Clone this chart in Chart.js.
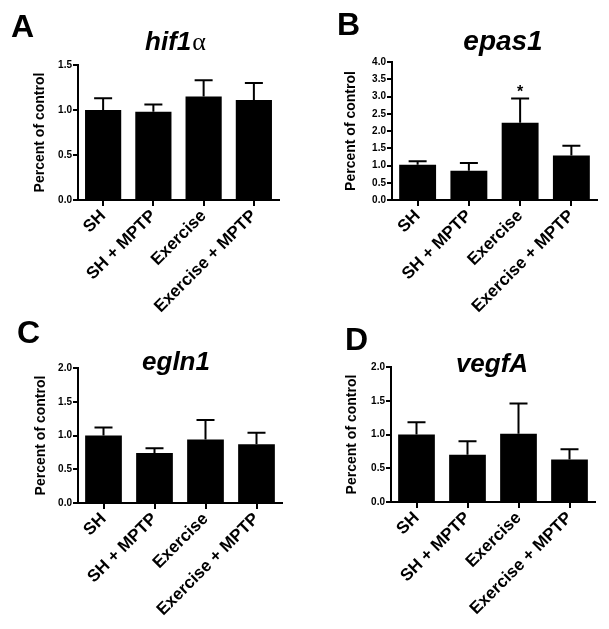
<!DOCTYPE html>
<html>
<head>
<meta charset="utf-8">
<script src="https://cdn.jsdelivr.net/npm/chart.js@4/dist/chart.umd.min.js"></script>
<style>
  body { margin: 0; background: #fff; }
  #wrap { position: relative; width: 609px; height: 629px; overflow: hidden; }
  canvas { position: absolute; }
</style>
</head>
<body>
<div id="wrap">
  <canvas id="panelA" width="305" height="330" style="left:0;top:0"></canvas>
  <canvas id="panelB" width="304" height="330" style="left:305px;top:0"></canvas>
  <canvas id="panelC" width="305" height="314" style="left:0;top:315px"></canvas>
  <canvas id="panelD" width="304" height="314" style="left:305px;top:315px"></canvas>
</div>
<script>
// groups on the x axis
const categories = ['SH', 'SH + MPTP', 'Exercise', 'Exercise + MPTP'];

// mean and SEM (upper error bar only)
const hif1aMean = [1.00, 0.98, 1.15, 1.11];
const hif1aSem  = [0.13, 0.08, 0.18, 0.19];
const epas1Mean = [1.02, 0.85, 2.24, 1.29];
const epas1Sem  = [0.10, 0.22, 0.70, 0.28];
const egln1Mean = [1.00, 0.74, 0.94, 0.87];
const egln1Sem  = [0.12, 0.07, 0.29, 0.17];
const vegfAMean = [1.00, 0.70, 1.01, 0.63];
const vegfASem  = [0.18, 0.20, 0.45, 0.15];

// y axis ranges
const hif1aMax = 1.5;
const epas1Max = 4.0;
const egln1Max = 2.0;
const vegfAMax = 2.0;

// significance marks (index into categories)
const epas1Signif = [2];

const FONT = '"Liberation Sans", Arial, Helvetica, sans-serif';
Chart.defaults.font.family = FONT;
Chart.defaults.color = '#000';

/* draws the upper error bars and the * marks */
const errorBars = {
  id: 'errorBars',
  afterDatasetsDraw(chart, args, opts) {
    const ctx = chart.ctx;
    const meta = chart.getDatasetMeta(0);
    const y = chart.scales.y;
    const mean = chart.data.datasets[0].data;
    ctx.save();
    ctx.strokeStyle = '#000';
    ctx.lineWidth = 2;
    meta.data.forEach((bar, i) => {
      const top = y.getPixelForValue(mean[i] + opts.sem[i]);
      ctx.beginPath();
      ctx.moveTo(bar.x, bar.y);
      ctx.lineTo(bar.x, top);
      ctx.moveTo(bar.x - 9, top);
      ctx.lineTo(bar.x + 9, top);
      ctx.stroke();
      if (opts.signif && opts.signif.includes(i)) {
        ctx.fillStyle = '#000';
        ctx.font = 'bold 16px ' + FONT;
        ctx.textAlign = 'center';
        ctx.textBaseline = 'alphabetic';
        ctx.fillText('*', bar.x, top - 2);
      }
    });
    ctx.restore();
  }
};

/* panel letter and gene name */
const panelTitle = {
  id: 'panelTitle',
  afterDraw(chart, args, o) {
    const ctx = chart.ctx;
    ctx.save();
    ctx.fillStyle = '#000';
    ctx.textBaseline = 'alphabetic';
    ctx.textAlign = 'left';
    ctx.font = 'bold 32px ' + FONT;
    ctx.fillText(o.letter, o.letterX, o.letterY);

    const mainFont = 'italic bold ' + o.size + 'px ' + FONT;
    const sufFont = 'normal ' + o.size + 'px "Liberation Serif", "DejaVu Serif", serif';
    ctx.font = mainFont;
    const w1 = ctx.measureText(o.text).width;
    ctx.font = sufFont;
    const w2 = o.suffix ? ctx.measureText(o.suffix).width : 0;
    let x = o.titleX - (w1 + w2) / 2;
    ctx.font = mainFont;
    ctx.fillText(o.text, x, o.titleY);
    if (o.suffix) {
      ctx.font = sufFont;
      ctx.fillText(o.suffix, x + w1 + 1, o.titleY);
    }
    ctx.restore();
  }
};

function makePanel(id, mean, sem, yMax, box, title, signif) {
  new Chart(document.getElementById(id), {
    type: 'bar',
    data: {
      labels: categories,
      datasets: [{
        data: mean,
        backgroundColor: '#000',
        borderWidth: 0,
        barPercentage: 0.72,
        categoryPercentage: 1.0
      }]
    },
    options: {
      responsive: false,
      animation: false,
      devicePixelRatio: 1,
      layout: { padding: { left: box.left, top: box.top, right: box.right, bottom: 0 } },
      plugins: {
        legend: { display: false },
        tooltip: { enabled: false },
        errorBars: { sem: sem, signif: signif },
        panelTitle: title
      },
      scales: {
        x: {
          offset: true,
          border: { color: '#000', width: 2 },
          grid: { display: true, drawOnChartArea: false, offset: false, color: '#000', lineWidth: 2, tickLength: 6 },
          ticks: {
            maxRotation: 45, minRotation: 45, padding: 0,
            font: { size: 17, weight: 'bold' }, color: '#000'
          },
          afterFit(s) { s.height = box.xh; }
        },
        y: {
          min: 0, max: yMax,
          border: { color: '#000', width: 2 },
          grid: { display: true, drawOnChartArea: false, color: '#000', lineWidth: 2, tickLength: 5 },
          ticks: {
            stepSize: 0.5, padding: 1,
            font: { size: 10, weight: 'bold' }, color: '#000',
            callback: v => v.toFixed(1)
          },
          title: {
            display: true, text: 'Percent of control',
            font: { size: 14, weight: 'bold' }, color: '#000',
            padding: { top: 4, bottom: 0 }
          },
          afterFit(s) { s.width = box.yw; }
        }
      }
    },
    plugins: [errorBars, panelTitle]
  });
}

makePanel('panelA', hif1aMean, hif1aSem, hif1aMax,
  { left: 28, top: 65, right: 26, yw: 50, xh: 130 },
  { letter: 'A', letterX: 11, letterY: 37, text: 'hif1', suffix: '\u03b1', size: 26, titleX: 175, titleY: 50 });

makePanel('panelB', epas1Mean, epas1Sem, epas1Max,
  { left: 34, top: 62, right: 12, yw: 53, xh: 130 },
  { letter: 'B', letterX: 32, letterY: 35, text: 'epas1', size: 28, titleX: 198, titleY: 50 },
  epas1Signif);

makePanel('panelC', egln1Mean, egln1Sem, egln1Max,
  { left: 29, top: 53, right: 23, yw: 49, xh: 126 },
  { letter: 'C', letterX: 17, letterY: 28, text: 'egln1', size: 26, titleX: 176, titleY: 55 });

makePanel('panelD', vegfAMean, vegfASem, vegfAMax,
  { left: 35, top: 52, right: 14, yw: 51, xh: 127 },
  { letter: 'D', letterX: 40, letterY: 35, text: 'vegfA', size: 26, titleX: 187, titleY: 57 });
</script>
</body>
</html>
